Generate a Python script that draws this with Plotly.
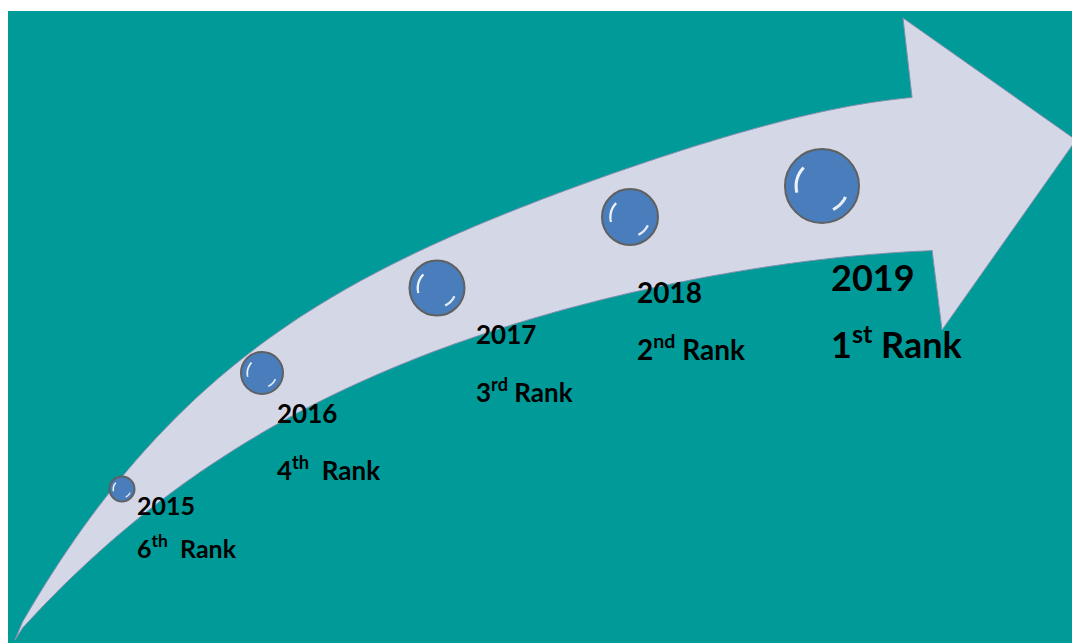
import numpy as np
import plotly.graph_objects as go

# ---- data ----
years = ["2015", "2016", "2017", "2018", "2019"]
rank_num = ["6", "4", "3", "2", "1"]
rank_suffix = ["th", "th", "rd", "nd", "st"]
rank_gap = ["&nbsp; ", "&nbsp; ", " ", " ", " "]

# bubble centres (pixel-space coordinates of the infographic) and diameters
bubble_x = [122, 262, 437, 630, 822]
bubble_y = [489, 373, 288, 217, 186]
bubble_d = [25, 42, 55, 56, 74]

# label placement
label_x = [135, 275, 474, 635, 829]
year_y = [505, 413, 334, 292, 277]
rank_y = [546, 468, 390, 347, 342]
font_size = [25, 26, 26, 28, 36]

W, H = 1072, 643
TEAL = "#009A99"
ARROW = "#D3D7E6"
BLUE = "#4A7DBB"
FONT = "Lato"

# arrow outline (geometry, pixel space)
upper_pts = np.array([(15, 640), (50, 580), (73, 533), (107, 490), (140, 453), (190, 407),
                      (240, 370), (295, 322), (400, 257), (500, 210), (580, 187), (680, 153),
                      (780, 122), (912, 97)], dtype=float)
lower_pts = np.array([(15, 640), (45, 600), (90, 560), (140, 517), (190, 477), (240, 447),
                      (273, 427), (340, 397), (400, 363), (477, 335), (580, 303), (630, 293),
                      (780, 267), (932, 250)], dtype=float)
head = [(903, 18), (1076, 140), (942, 330), (932, 250)]


def smooth_edge(pts, x0, x1, n=120):
    coef = np.polyfit(pts[:, 0], pts[:, 1], 4)
    xs = np.linspace(x0, x1, n)
    ys = np.polyval(coef, xs)
    return list(zip(xs, ys))


up = smooth_edge(upper_pts, 15, 912)
lo = smooth_edge(lower_pts, 15, 932)[::-1]
up[0] = (15, 640)
lo[-1] = (15, 640)

path = "M " + " L ".join(f"{x:.1f},{y:.1f}" for x, y in up)
path += " L 912,97 " + " ".join(f"L {x},{y}" for x, y in head)
path += " L " + " L ".join(f"{x:.1f},{y:.1f}" for x, y in lo) + " Z"

shapes = [
    dict(type="rect", xref="x", yref="y", x0=8, x1=W + 2, y0=11, y1=H + 2,
         fillcolor=TEAL, line=dict(width=0), layer="below"),
    dict(type="path", xref="x", yref="y", path=path, fillcolor=ARROW,
         line=dict(color="#8390ad", width=1), layer="below"),
]


def arc(cx, cy, r, a0, a1, n=20):
    th = np.radians(np.linspace(a0, a1, n))
    xs = cx + r * np.cos(th)
    ys = cy - r * np.sin(th)
    return "M " + " L ".join(f"{x:.2f},{y:.2f}" for x, y in zip(xs, ys))


for cx, cy, d in zip(bubble_x, bubble_y, bubble_d):
    r = d / 2.0
    w = max(1.5, d / 24)
    shapes.append(dict(type="path", xref="x", yref="y", path=arc(cx, cy, r * 0.70, 135, 195),
                       line=dict(color="rgba(255,255,255,0.9)", width=w)))
    shapes.append(dict(type="path", xref="x", yref="y", path=arc(cx, cy, r * 0.70, -65, -25),
                       line=dict(color="rgba(255,255,255,0.85)", width=w)))

fig = go.Figure()
fig.add_trace(go.Scatter(
    x=bubble_x, y=bubble_y, mode="markers",
    marker=dict(size=bubble_d, color=BLUE, opacity=1,
                line=dict(color="#606060", width=2)),
    hoverinfo="skip", showlegend=False))

annotations = []
for i in range(len(years)):
    annotations.append(dict(
        x=label_x[i], y=year_y[i], xref="x", yref="y", xanchor="left", yanchor="middle",
        text=years[i], showarrow=False,
        font=dict(family=FONT, size=font_size[i], color="black", weight="bold")))
    annotations.append(dict(
        x=label_x[i], y=rank_y[i], xref="x", yref="y", xanchor="left", yanchor="middle",
        text=f"{rank_num[i]}<sup>{rank_suffix[i]}</sup>{rank_gap[i]}Rank", showarrow=False,
        font=dict(family=FONT, size=font_size[i], color="black", weight="bold")))

fig.update_layout(
    width=W, height=H, margin=dict(l=0, r=0, t=0, b=0),
    paper_bgcolor="white", plot_bgcolor="white",
    xaxis=dict(range=[0, W], visible=False, fixedrange=True),
    yaxis=dict(range=[H, 0], visible=False, fixedrange=True),
    shapes=shapes, annotations=annotations, showlegend=False,
)
fig.write_html("out.html", config={"displayModeBar": False},
               post_script="document.body.style.margin='0';document.body.style.overflow='hidden';")
